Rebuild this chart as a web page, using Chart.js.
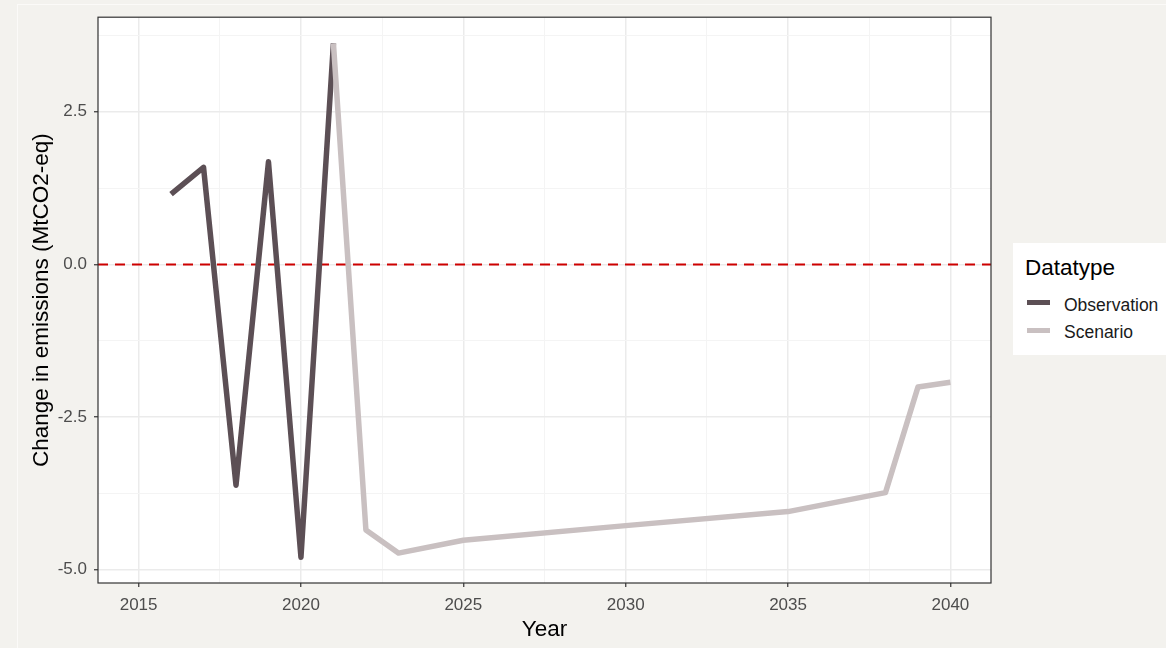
<!DOCTYPE html>
<html>
<head>
<meta charset="utf-8">
<script src="https://cdn.jsdelivr.net/npm/chart.js@4"></script>
<style>
    html, body { margin: 0; padding: 0; background: #f3f2ee; }
    #wrap { position: relative; width: 1166px; height: 648px; overflow: hidden; }
    #frame { position: absolute; left: 17px; top: 4px; right: -2px; bottom: -2px; border: 1px solid #fbfaf8; }
    canvas { position: absolute; left: 0; top: 0; }
    #legend {
        position: absolute; left: 1013px; top: 243px; width: 153px; height: 112px;
        background: #ffffff; font-family: 'Liberation Sans', Arial, sans-serif;
    }
    #legend div { position: absolute; line-height: 1; white-space: nowrap; }
    #legend .title { left: 12px; top: 14px; font-size: 22.5px; color: #000; }
    #legend .swatch { left: 14px; width: 23px; height: 5px; }
    #legend .label { left: 51px; font-size: 17.5px; color: #1a1a1a; }
</style>
</head>
<body>
<div id="wrap">
    <div id="frame"></div>
    <canvas id="chart" width="1166" height="648"></canvas>
    <div id="legend">
        <div class="title">Datatype</div>
        <div class="swatch" style="top: 57px; background: #5c4f55;"></div>
        <div class="label" style="top: 53.5px;">Observation</div>
        <div class="swatch" style="top: 85px; background: #c9c0c1;"></div>
        <div class="label" style="top: 81px;">Scenario</div>
    </div>
</div>
<script>
const obsYears = [2016, 2017, 2018, 2019, 2020, 2021];
const obsValues = [1.15, 1.59, -3.62, 1.68, -4.80, 3.62];

const scenYears = [2021, 2022, 2023, 2025, 2030, 2035, 2038, 2039, 2040];
const scenValues = [3.62, -4.35, -4.73, -4.52, -4.28, -4.05, -3.74, -2.01, -1.93];

const xMajorTicks = [2015, 2020, 2025, 2030, 2035, 2040];
const xMinorTicks = [2017.5, 2022.5, 2027.5, 2032.5, 2037.5];
const yMajorTicks = [-5, -2.5, 0, 2.5];
const yMinorTicks = [-3.75, -1.25, 1.25, 3.75];

const font = "'Liberation Sans', Arial, sans-serif";

function toPoints(xs, ys) {
    return xs.map((x, i) => ({ x: x, y: ys[i] }));
}

const panelPlugin = {
    id: 'panel',
    beforeDraw(chart) {
        const { ctx, chartArea } = chart;
        ctx.save();
        ctx.fillStyle = '#ffffff';
        ctx.fillRect(chartArea.left, chartArea.top, chartArea.right - chartArea.left, chartArea.bottom - chartArea.top);
        ctx.restore();
    },
    beforeDatasetsDraw(chart) {
        // dashed reference line at zero
        const { ctx, chartArea } = chart;
        const y0 = chart.scales.y.getPixelForValue(0);
        ctx.save();
        ctx.strokeStyle = '#cd0000';
        ctx.lineWidth = 2;
        ctx.setLineDash([10, 7]);
        ctx.beginPath();
        ctx.moveTo(chartArea.left, y0);
        ctx.lineTo(chartArea.right, y0);
        ctx.stroke();
        ctx.restore();
    },
    afterDraw(chart) {
        const { ctx, chartArea } = chart;
        ctx.save();
        ctx.strokeStyle = '#333333';
        ctx.lineWidth = 1.2;
        ctx.strokeRect(chartArea.left, chartArea.top, chartArea.right - chartArea.left, chartArea.bottom - chartArea.top);
        ctx.restore();
    }
};

new Chart(document.getElementById('chart'), {
    type: 'line',
    data: {
        datasets: [{
            label: 'Observation',
            data: toPoints(obsYears, obsValues),
            borderColor: '#5c4f55',
            borderWidth: 5.5,
            borderCapStyle: 'butt',
            borderJoinStyle: 'round',
            pointRadius: 0,
            tension: 0,
            order: 2
        }, {
            label: 'Scenario',
            data: toPoints(scenYears, scenValues),
            borderColor: '#c9c0c1',
            borderWidth: 5.5,
            borderCapStyle: 'butt',
            borderJoinStyle: 'round',
            pointRadius: 0,
            tension: 0,
            order: 1
        }]
    },
    options: {
        responsive: false,
        animation: false,
        layout: { padding: { top: 15, right: 175, bottom: 0, left: 0 } },
        plugins: {
            legend: { display: false },
            tooltip: { enabled: false }
        },
        scales: {
            x: {
                type: 'linear',
                min: 2013.75,
                max: 2041.25,
                afterBuildTicks: (scale) => {
                    scale.ticks = xMajorTicks.concat(xMinorTicks).sort((a, b) => a - b).map(v => ({ value: v }));
                },
                afterFit: (scale) => { scale.height = 65; },
                ticks: {
                    autoSkip: false,
                    maxRotation: 0,
                    padding: 8,
                    color: '#4d4d4d',
                    font: { family: font, size: 17 },
                    callback: (v) => xMajorTicks.includes(v) ? String(v) : ''
                },
                grid: {
                    color: (c) => xMajorTicks.includes(c.tick.value) ? '#ebebeb' : '#f4f4f4',
                    lineWidth: (c) => xMajorTicks.includes(c.tick.value) ? 1.5 : 1,
                    tickColor: (c) => xMajorTicks.includes(c.tick.value) ? '#333333' : 'rgba(0,0,0,0)',
                    tickLength: 4,
                    tickWidth: 1.2
                },
                border: { display: false },
                title: {
                    display: true,
                    text: 'Year',
                    color: '#000000',
                    font: { family: font, size: 22.5 },
                    padding: { top: 0, bottom: 4.5 }
                }
            },
            y: {
                type: 'linear',
                min: -5.22,
                max: 4.05,
                afterBuildTicks: (scale) => {
                    scale.ticks = yMajorTicks.concat(yMinorTicks).sort((a, b) => a - b).map(v => ({ value: v }));
                },
                afterFit: (scale) => { scale.width = 98; },
                ticks: {
                    autoSkip: false,
                    padding: 7,
                    color: '#4d4d4d',
                    font: { family: font, size: 17 },
                    callback: (v) => yMajorTicks.includes(v) ? v.toFixed(1) : ''
                },
                grid: {
                    color: (c) => yMajorTicks.includes(c.tick.value) ? '#ebebeb' : '#f4f4f4',
                    lineWidth: (c) => yMajorTicks.includes(c.tick.value) ? 1.5 : 1,
                    tickColor: (c) => yMajorTicks.includes(c.tick.value) ? '#333333' : 'rgba(0,0,0,0)',
                    tickLength: 4,
                    tickWidth: 1.2
                },
                border: { display: false },
                title: {
                    display: true,
                    text: 'Change in emissions (MtCO2-eq)',
                    color: '#000000',
                    font: { family: font, size: 22.5 },
                    padding: { top: 28.5, bottom: 0 }
                }
            }
        }
    },
    plugins: [panelPlugin]
});
</script>
</body>
</html>
